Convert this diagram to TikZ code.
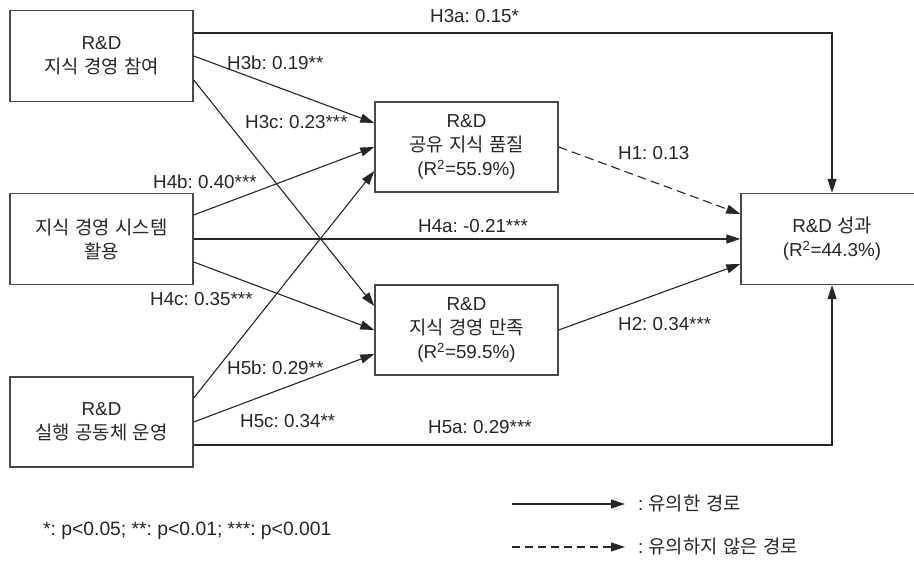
\documentclass[tikz,border=0pt]{standalone}
\usepackage{fontspec}
\setmainfont{Liberation Sans}
\newfontfamily\kr[WordSpace=1.3]{Noto Sans CJK KR}
\usetikzlibrary{arrows.meta,calc}
\definecolor{ink}{HTML}{262626}
\definecolor{edge}{HTML}{4A4A4A}
\frenchspacing
\begin{document}
\begin{tikzpicture}[x=1pt,y=-1pt,
  font=\fontsize{18.8pt}{24pt}\selectfont,
  box/.style={draw=edge, line width=1.4pt, fill=white, minimum width=183pt,
    minimum height=91pt, inner sep=0pt, align=center, text=ink},
  link/.style={draw=ink, line width=1.1pt, -{Triangle[length=14pt,width=9pt]}},
  nslink/.style={link, dash pattern=on 9pt off 5pt},
  lbl/.style={anchor=base west, inner sep=0pt, text=ink}]
\useasboundingbox (0,0) rectangle (914,561);
\fill[white] (0,0) rectangle (914,561);
\clip (0,0) rectangle (914,561);

% constructs
\node[box] (A) at (101.5,56) {R\&D\\{\kr 지식 경영 참여}};
\node[box] (B) at (101.5,239) {{\kr 지식 경영 시스템}\\{\kr 활용}};
\node[box, minimum height=90pt] (C) at (101.5,422) {R\&D\\{\kr 실행 공동체 운영}};
\node[box, minimum height=90pt] (D) at (466.5,147) {R\&D\\{\kr 공유 지식 품질}\\(R\textsuperscript{2}=55.9\%)};
\node[box, minimum height=90pt] (E) at (466.5,330) {R\&D\\{\kr 지식 경영 만족}\\(R\textsuperscript{2}=59.5\%)};
\node[box, minimum width=182pt] (F) at (832,239) {R\&D {\kr 성과}\\(R\textsuperscript{2}=44.3\%)};

% paths
\draw[link] ($(A.east)+(0,-23)$) -| (F.north);
\draw[link] (A.east) -- ($(D.west)+(0,-24)$);
\draw[link] ($(A.east)+(0,24)$) -- ($(E.west)+(0,-24)$);
\draw[link] ($(B.east)+(0,-24)$) -- (D.west);
\draw[link] (B.east) -- (F.west);
\draw[link] ($(B.east)+(0,23)$) -- (E.west);
\draw[link] ($(C.east)+(0,-24)$) -- ($(D.west)+(0,24)$);
\draw[link] (C.east) -- ($(E.west)+(0,24)$);
\draw[link] ($(C.east)+(0,23)$) -| (F.south);
\draw[nslink] (D.east) -- ($(F.west)+(0,-25)$);
\draw[link] (E.east) -- ($(F.west)+(0,25)$);

% coefficients
\node[lbl] (h3a) at (430,22.7) {H3a: 0.15*};
\node[lbl] (h3b) at (227,69.7) {H3b: 0.19**};
\node[lbl] (h3c) at (245,128.7) {H3c: 0.23***};
\node[lbl] (h4b) at (153,188.7) {H4b: 0.40***};
\node[lbl] (h4a) at (418,232.5) {H4a: -0.21***};
\node[lbl] (h4c) at (150,305.7) {H4c: 0.35***};
\node[lbl] (h5b) at (227,374.7) {H5b: 0.29**};
\node[lbl] (h5c) at (240,427.7) {H5c: 0.34**};
\node[lbl] (h5a) at (428,433.7) {H5a: 0.29***};
\node[lbl] (h1) at (618,159.7) {H1: 0.13};
\node[lbl] (h2) at (618,330.7) {H2: 0.34***};

% legend
\coordinate (s1) at (512,504);
\coordinate (s2) at (625,504);
\coordinate (n1) at (512,547);
\coordinate (n2) at (625,547);
\draw[link] (s1) -- (s2);
\draw[link, dash pattern=on 8pt off 5pt] (n1) -- (n2);
\node[lbl] (sig) at (638,510.7) {: {\kr 유의한 경로}};
\node[lbl] (nsig) at (638,553.7) {: {\kr 유의하지 않은 경로}};
\node[lbl, font=\fontsize{19.3pt}{24pt}\selectfont] (note) at (43,535.5) {*: p<0.05; **: p<0.01; ***: p<0.001};
\end{tikzpicture}
\end{document}
